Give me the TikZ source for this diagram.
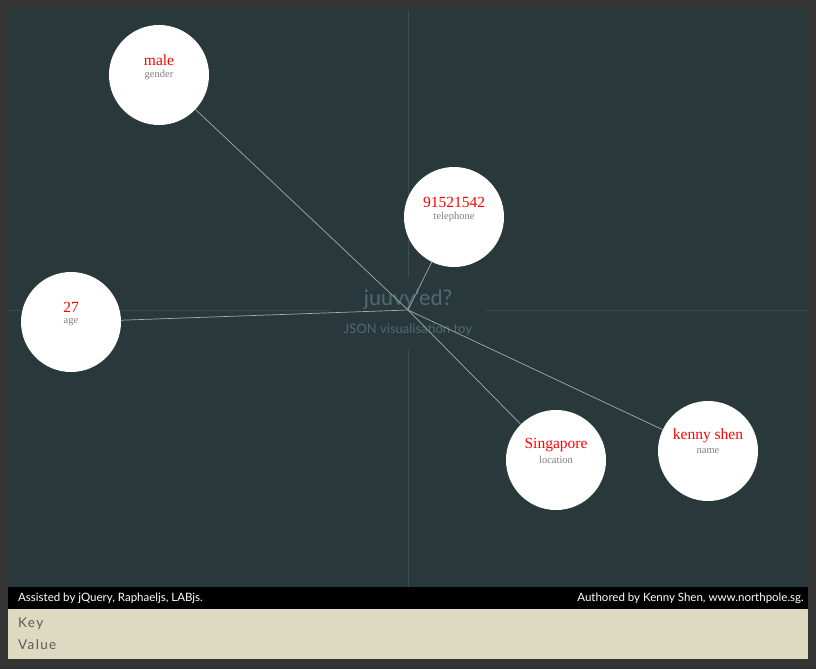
\documentclass[tikz,border=0pt]{standalone}
\usepackage{fontspec}
\setmainfont{Liberation Serif}
\newfontfamily\gillish{Lato}
\usetikzlibrary{positioning}

\definecolor{framegray}{HTML}{343434}
\definecolor{board}{HTML}{29383B}
\definecolor{crosshair}{HTML}{3D4E51}
\definecolor{linkgray}{HTML}{A3ABAB}
\definecolor{titleteal}{HTML}{4F6B6F}
\definecolor{keybar}{HTML}{DEDAC2}
\definecolor{keygray}{HTML}{5A5A55}

\tikzset{
  pair/.style={circle, fill=white, minimum size=100pt, inner sep=0pt},
  val/.style={text=red, font=\fontsize{15.5}{16}\selectfont, inner sep=0pt},
  keyname/.style={text=gray, font=\fontsize{10.5}{12}\selectfont, inner sep=0pt},
  link/.style={draw=linkgray, line width=0.7pt},
}

\begin{document}
\begin{tikzpicture}[x=1pt, y=-1pt]
  % frame and board
  \fill[framegray] (0,0) rectangle (816,669);
  \fill[board] (8,10) rectangle (808,587);
  \fill[black] (8,587) rectangle (808,609);
  \fill[keybar] (8,609) rectangle (808,659);
  \useasboundingbox (0,0) rectangle (816,669);

  % crosshair, hidden behind the title
  \draw[crosshair, line width=0.8pt] (408,10) -- (408,587);
  \draw[crosshair, line width=0.8pt] (8,310) -- (808,310);
  \node[fill=board, minimum width=156pt, minimum height=72pt, inner sep=0pt] (titlebox) at (408,314) {};
  \node[text=titleteal, font=\gillish\fontsize{21.5}{22}\selectfont] (title) at (408,299) {juuvy’ed?};
  \node[text=titleteal, font=\gillish\fontsize{13}{14}\selectfont] (subtitle) at (408,330) {JSON visualisation toy};

  \coordinate (hub) at (408,310);

  % the key/value circles
  \node[pair] (gender) at (159,75) {};
  \node[pair] (telephone) at (454,217) {};
  \node[pair] (age) at (71,322) {};
  \node[pair] (location) at (556,460) {};
  \node[pair] (name) at (708,451) {};

  \foreach \k in {gender,telephone,age,location,name}
    \draw[link] (hub) -- (\k);

  \node[val] (genderv) at ([yshift=15pt]gender.center) {male};
  \node[keyname] (genderk) at (gender.center) {gender};
  \node[val] (telephonev) at ([yshift=15pt]telephone.center) {91521542};
  \node[keyname] (telephonek) at (telephone.center) {telephone};
  \node[val] (agev) at ([yshift=15pt]age.center) {27};
  \node[keyname] (agek) at (age.center) {age};
  \node[val] (locationv) at ([yshift=15pt]location.center) {Singapore};
  \node[keyname] (locationk) at (location.center) {location};
  \node[val] (namev) at ([yshift=15pt]name.center) {kenny shen};
  \node[keyname] (namek) at (name.center) {name};

  % footer
  \node[right, text=white, font=\gillish\fontsize{11.5}{13}\selectfont, inner sep=0pt] (assisted) at (18,598) {Assisted by jQuery, Raphaeljs, LABjs.};
  \node[left, text=white, font=\gillish\fontsize{11.5}{13}\selectfont, inner sep=0pt] (authored) at (804,598) {Authored by Kenny Shen, www.northpole.sg.};
  \node[right, text=keygray, font=\gillish\fontsize{13.5}{15}\selectfont\addfontfeatures{LetterSpace=10}, inner sep=0pt] (keylbl) at (18,624) {Key};
  \node[right, text=keygray, font=\gillish\fontsize{13.5}{15}\selectfont\addfontfeatures{LetterSpace=10}, inner sep=0pt] (valuelbl) at (18,645) {Value};
\end{tikzpicture}
\end{document}
